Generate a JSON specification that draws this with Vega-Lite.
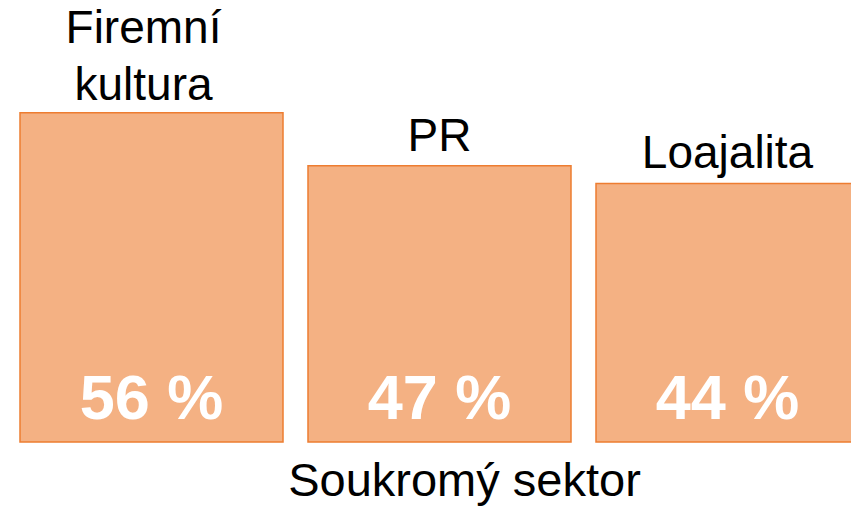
{
  "$schema": "https://vega.github.io/schema/vega-lite/v6.json",
  "width": 851,
  "height": 442,
  "autosize": "none",
  "padding": {"left": 0, "top": 0, "right": 0, "bottom": 67},
  "background": "white",
  "config": {"view": {"stroke": null}, "font": "Liberation Sans"},
  "data": {
    "values": [
      {"kategorie": "Firemní kultura", "hodnota": 56},
      {"kategorie": "PR", "hodnota": 47},
      {"kategorie": "Loajalita", "hodnota": 44}
    ]
  },
  "transform": [{"calculate": "datum.hodnota + ' %'", "as": "popisek"}],
  "encoding": {
    "x": {
      "field": "kategorie",
      "type": "nominal",
      "sort": null,
      "scale": {"range": [20, 859], "paddingInner": 0.0868, "paddingOuter": 0},
      "axis": {
        "domain": false,
        "ticks": false,
        "labels": false,
        "grid": false,
        "title": "Soukromý sektor",
        "titleFontSize": 47,
        "titleFontWeight": "normal",
        "titleColor": "black",
        "titleFont": "Liberation Sans",
        "titlePadding": 16,
        "titleX": 464
      }
    }
  },
  "layer": [
    {
      "mark": {"type": "bar", "fill": "#F4B183", "stroke": "#ED7D31", "strokeWidth": 1.5},
      "encoding": {
        "y": {"field": "hodnota", "type": "quantitative", "scale": {"domain": [0, 75.2], "nice": false}, "axis": null}
      }
    },
    {
      "transform": [{"filter": "indexof(datum.kategorie, ' ') < 0"}],
      "mark": {"type": "text", "fontSize": 46, "baseline": "bottom", "dy": -5, "color": "black"},
      "encoding": {
        "y": {"field": "hodnota", "type": "quantitative"},
        "text": {"field": "kategorie"}
      }
    },
    {
      "transform": [{"filter": "indexof(datum.kategorie, ' ') >= 0"}],
      "mark": {"type": "text", "fontSize": 46, "baseline": "bottom", "dy": -60, "dx": -8, "lineBreak": " ", "lineHeight": 57, "color": "black"},
      "encoding": {
        "y": {"field": "hodnota", "type": "quantitative"},
        "text": {"field": "kategorie"}
      }
    },
    {
      "mark": {"type": "text", "fontSize": 63, "fontWeight": "bold", "color": "white", "baseline": "alphabetic", "dy": -23},
      "encoding": {
        "y": {"datum": 0, "type": "quantitative"},
        "text": {"field": "popisek"}
      }
    }
  ]
}
